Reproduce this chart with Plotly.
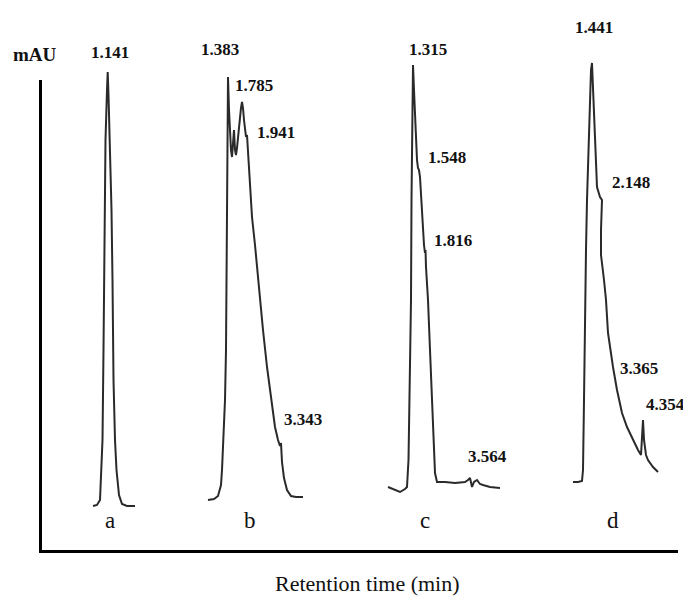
import plotly.graph_objects as go

# Chromatogram traces (x: chart position, arbitrary time units; y: absorbance, arbitrary mAU)
a_x = [5.1, 5.5, 5.8, 5.95, 6.05, 6.15, 6.2, 6.25, 6.35, 6.5, 6.57, 6.65, 6.8, 6.95, 7.05, 7.15, 7.3, 7.45, 7.7, 8.0, 8.5, 9.3]
a_y = [4.4, 4.5, 5.0, 8.0, 11.0, 20.0, 27.0, 35.0, 41.0, 46.0, 47.8, 45.5, 40.0, 34.0, 27.0, 17.0, 11.0, 8.0, 5.5, 4.6, 4.4, 4.4]

b_x = [16.6, 17.2, 17.6, 17.9, 18.0, 18.3, 18.4, 18.5, 18.55, 18.6, 18.7, 18.8, 18.9, 19.0, 19.1, 19.2, 19.3, 19.4, 19.5,
       19.7, 19.9, 20.0, 20.1, 20.2, 20.3, 20.4, 20.5, 20.6, 20.7, 21.0, 21.3, 21.5, 21.8, 22.1, 22.5, 22.9, 23.3, 23.6,
       23.8, 23.9, 24.0, 24.2, 24.5, 24.9, 25.4, 26.1]
b_y = [5.0, 5.1, 5.4, 6.5, 8.0, 15.0, 20.0, 30.0, 40.0, 47.3, 44.0, 41.5, 40.0, 39.3, 40.5, 42.0, 40.0, 39.5, 40.2,
       42.5, 44.2, 44.8, 44.2, 43.0, 41.8, 41.3, 41.5, 40.0, 37.7, 33.3, 30.5, 28.3, 25.0, 22.0, 18.3, 15.0, 12.3, 11.0,
       10.4, 10.7, 8.8, 7.2, 6.0, 5.4, 5.3, 5.3]

c_x = [34.6, 35.3, 35.8, 36.3, 36.5, 36.65, 36.7, 36.8, 36.9, 36.95, 37.0, 37.1, 37.2, 37.3, 37.4, 37.5, 37.6, 37.7,
       37.8, 37.9, 38.0, 38.1, 38.2, 38.3, 38.35, 38.4, 38.5, 38.6, 38.8, 39.0, 39.2, 39.3, 39.5, 40.3, 41.3, 42.3,
       42.6, 42.8, 43.0, 43.2, 43.5, 43.8, 44.1, 44.8, 45.8]
c_y = [6.3, 6.0, 5.8, 6.1, 6.3, 9.0, 11.7, 20.0, 25.0, 35.0, 43.0, 48.5, 46.0, 43.3, 41.0, 39.0, 38.2, 38.0,
       37.3, 35.5, 33.3, 31.5, 30.5, 29.7, 30.0, 28.3, 26.5, 25.0, 20.0, 15.0, 10.0, 7.7, 6.8, 6.8, 6.7, 6.8,
       7.0, 7.2, 6.3, 6.8, 7.0, 6.6, 6.5, 6.3, 6.2]

d_x = [53.1, 53.6, 54.0, 54.1, 54.2, 54.3, 54.4, 54.5, 54.7, 54.8, 54.9, 55.0, 55.1, 55.2, 55.3, 55.5, 55.8, 56.0,
       55.9, 55.9, 56.2, 56.4, 56.6, 56.9, 57.1, 57.5, 57.8, 58.0, 58.5, 59.1, 59.6, 59.9, 60.1, 60.2, 60.4, 60.6,
       61.1, 61.6]
d_y = [6.8, 6.8, 6.9, 8.0, 15.0, 25.0, 30.0, 35.0, 41.0, 45.0, 48.0, 48.7, 46.0, 43.0, 40.0, 36.3, 35.3, 35.0,
       32.0, 29.5, 27.0, 25.0, 21.7, 19.5, 18.3, 16.0, 14.5, 13.7, 12.3, 11.0, 10.0, 9.5, 13.0, 11.0, 9.5, 9.0,
       8.3, 7.8]

# Peak labels: text, x, y
peak_text = ["1.141", "1.383", "1.785", "1.941", "3.343", "1.315", "1.548", "1.816", "3.564",
             "1.441", "2.148", "3.365", "4.354"]
peak_x = [6.8, 17.8, 21.2, 23.4, 26.1, 38.6, 40.5, 41.1, 44.5, 55.2, 58.9, 59.7, 62.3]
peak_y = [49.8, 50.1, 46.5, 41.8, 13.1, 50.1, 39.3, 31.0, 9.4, 52.3, 36.8, 18.2, 14.6]

# Panel letters
panel_text = ["a", "b", "c", "d"]
panel_x = [6.8, 20.8, 38.3, 57.1]
panel_y = [3.0, 3.0, 3.0, 3.0]

x_title = "Retention time (min)"
y_title = "mAU"

SERIF = "'Liberation Serif', 'Times New Roman', Times, 'DejaVu Serif', serif"

fig = go.Figure()
# empty trace so that the framing x/y axes are drawn
fig.add_trace(go.Scatter(x=[None], y=[None], mode="lines", xaxis="x", yaxis="y",
                         showlegend=False, hoverinfo="skip"))
for xs, ys in [(a_x, a_y), (b_x, b_y), (c_x, c_y), (d_x, d_y)]:
    fig.add_trace(go.Scatter(x=xs, y=ys, mode="lines", xaxis="x", yaxis="y2",
                             line=dict(color="#2a2a2a", width=2), hoverinfo="skip",
                             showlegend=False))

annotations = []
for t, x, y in zip(peak_text, peak_x, peak_y):
    annotations.append(dict(text="<b>" + t + "</b>", x=x, y=y, xref="x", yref="y2", showarrow=False,
                            xanchor="center", yanchor="middle",
                            font=dict(family=SERIF, size=17, color="#111")))
for t, x, y in zip(panel_text, panel_x, panel_y):
    annotations.append(dict(text=t, x=x, y=y, xref="x", yref="y2", showarrow=False,
                            xanchor="center", yanchor="middle",
                            font=dict(family=SERIF, size=23, color="#111")))
annotations.append(dict(text=x_title, x=32.5, y=-0.062, xref="x", yref="paper", showarrow=False,
                        xanchor="center", yanchor="middle",
                        font=dict(family=SERIF, size=22, color="#111")))
annotations.append(dict(text="<b>" + y_title + "</b>", x=-0.011, y=0.927, xref="paper", yref="paper",
                        showarrow=False, xanchor="center", yanchor="middle",
                        font=dict(family=SERIF, size=19, color="#111")))

fig.update_layout(
    width=683, height=597,
    margin=dict(l=42, r=5, t=16, b=47),
    paper_bgcolor="white", plot_bgcolor="white",
    font=dict(family=SERIF),
    xaxis=dict(range=[0, 63.6], showline=True, linecolor="black", linewidth=3, showticklabels=False,
               ticks="", showgrid=False, zeroline=False, anchor="y", fixedrange=True),
    yaxis=dict(domain=[0, 0.88], range=[0, 47], showline=True, linecolor="black", linewidth=2.5,
               showticklabels=False, ticks="", showgrid=False, zeroline=False, anchor="x"),
    yaxis2=dict(domain=[0, 1], range=[0, 53.4], visible=False, anchor="x"),
    annotations=annotations,
)

fig.write_html("out.html")
